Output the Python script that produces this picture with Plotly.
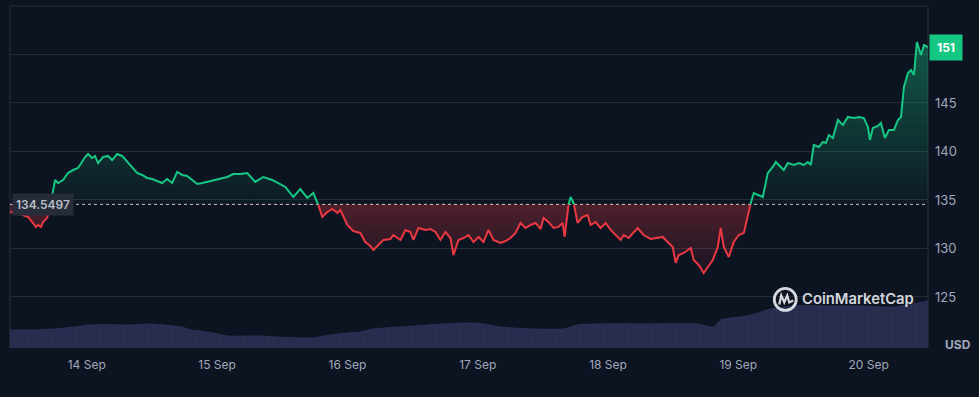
import numpy as np
import pandas as pd
import plotly.graph_objects as go

# ---------------- data ----------------
# hours relative to 14 Sep 2024 00:00
hours = [
    -14.14, -12.30, -10.82, -9.90, -9.35, -8.98, -8.43, -8.06, -7.32, -6.77,
    -6.40, -5.84, -5.29, -4.37, -3.45, -2.53, -1.60, -0.87, -0.31, 0.24,
    0.98, 1.53, 2.08, 3.01, 3.93, 4.66, 5.59, 6.51, 7.43, 8.35,
    9.27, 10.20, 11.12, 12.04, 12.96, 13.88, 14.81, 15.73, 16.65, 17.57,
    18.49, 19.42, 20.34, 21.26, 22.18, 23.29, 24.58, 25.87, 26.97, 28.27,
    29.56, 31.03, 32.51, 34.17, 35.27, 36.56, 38.04, 39.33, 40.62, 41.73,
    42.65, 43.38, 44.31, 45.23, 46.15, 46.70, 47.99, 49.10, 50.39, 51.31,
    52.23, 52.79, 53.71, 54.63, 55.92, 56.48, 57.77, 58.69, 59.61, 60.16,
    61.08, 62.38, 63.30, 64.22, 65.14, 66.06, 66.98, 67.54, 68.46, 69.38,
    70.30, 71.23, 72.15, 73.07, 73.99, 74.91, 76.20, 77.13, 78.05, 78.97,
    79.89, 80.81, 81.74, 82.66, 83.58, 84.13, 85.05, 85.98, 86.90, 87.64,
    88.01, 88.56, 89.12, 89.67, 90.41, 91.32, 92.25, 92.80, 93.72, 94.64,
    95.57, 96.49, 97.41, 98.33, 98.88, 99.80, 101.46, 102.57, 103.86, 105.15,
    106.07, 106.99, 107.92, 108.47, 109.02, 109.95, 111.24, 111.79, 112.71, 113.63,
    114.37, 115.29, 116.22, 116.77, 117.32, 118.24, 119.16, 120.08, 121.01, 121.74,
    122.30, 122.85, 123.77, 124.51, 125.43, 126.35, 126.91, 127.83, 128.38, 129.12,
    130.23, 131.15, 132.07, 132.81, 133.36, 133.91, 134.84, 135.57, 136.13, 136.68,
    137.42, 138.34, 139.26, 140.18, 141.29, 142.21, 143.13, 143.87, 144.24, 144.79,
    145.71, 146.27, 147.00, 147.74, 148.67, 149.40, 149.96, 150.51, 151.25, 151.80,
    152.36, 152.90, 153.64, 154.20, 154.94,
]
prices = [
    133.76, 133.56, 133.25, 132.63, 132.22, 132.42, 132.22, 132.73, 133.14, 134.18,
    135.52, 137.06, 136.75, 137.06, 137.78, 138.09, 138.30, 138.92, 139.43, 139.74,
    139.33, 139.54, 138.81, 139.43, 139.54, 139.12, 139.74, 139.54, 138.92, 138.30,
    137.78, 137.58, 137.27, 137.16, 136.96, 136.75, 137.16, 136.75, 137.89, 137.58,
    137.47, 137.06, 136.65, 136.75, 136.86, 137.06, 137.16, 137.37, 137.68, 137.68,
    137.78, 136.86, 137.37, 137.06, 136.75, 136.34, 135.31, 136.13, 135.21, 135.72,
    134.48, 133.25, 133.76, 134.07, 133.66, 133.97, 132.42, 131.80, 131.60, 130.67,
    130.26, 129.85, 130.36, 130.88, 130.98, 131.39, 130.88, 131.91, 131.70, 130.88,
    132.11, 131.91, 132.01, 131.70, 130.88, 131.70, 131.08, 129.33, 130.88, 131.08,
    131.39, 130.67, 131.19, 130.67, 131.91, 130.88, 130.57, 130.77, 131.08, 131.60,
    132.63, 132.11, 132.42, 132.63, 132.01, 133.14, 132.73, 132.11, 132.22, 132.63,
    131.19, 134.18, 135.31, 134.69, 132.63, 133.25, 133.45, 132.42, 132.73, 132.11,
    132.63, 131.91, 131.39, 130.88, 131.39, 131.08, 132.11, 131.39, 130.98, 131.08,
    131.19, 130.67, 130.15, 128.51, 129.33, 129.54, 130.05, 128.81, 128.30, 127.47,
    128.09, 128.81, 130.15, 132.11, 130.15, 129.12, 130.67, 131.39, 131.60, 133.25,
    134.69, 135.72, 135.52, 135.31, 137.78, 138.40, 138.92, 138.40, 138.09, 138.81,
    138.61, 138.81, 138.61, 138.92, 138.61, 140.67, 140.46, 140.98, 140.88, 141.70,
    141.39, 143.25, 142.73, 143.56, 143.45, 143.56, 143.45, 142.53, 141.19, 142.42,
    142.63, 142.94, 141.39, 142.22, 142.22, 143.25, 143.56, 146.65, 148.09, 148.40,
    147.89, 151.29, 149.95, 150.98, 150.77,
]
base_price = 134.5497

vol_hours = [
    -14.14, -9.90, -5.84, -2.16, 0.61, 7.98, 11.67, 15.91, 17.57, 19.05,
    20.89, 23.29, 25.87, 31.95, 34.72, 39.33, 41.73, 43.57, 47.99, 50.39,
    52.79, 57.77, 62.74, 65.69, 70.12, 73.07, 76.20, 81.74, 87.82, 90.41,
    94.64, 103.86, 112.53, 115.48, 116.77, 121.74, 125.98, 130.23, 137.05, 142.58,
    146.27, 149.03, 150.88, 155.12,
]
volumes = [
    45, 45, 47.5, 52.5, 57.5, 57.5, 60, 55, 52.5, 45,
    42.5, 37.5, 30, 30, 27.5, 25, 25, 30, 37.5, 40,
    47.5, 52.5, 57.5, 60, 62.5, 60, 52.5, 47.5, 47.5, 57.5,
    60, 60, 60, 52.5, 70, 80, 97.5, 105, 105, 105,
    102.5, 102.5, 107.5, 117.5,
]

day_ticks = ["2024-09-14", "2024-09-15", "2024-09-16", "2024-09-17",
             "2024-09-18", "2024-09-19", "2024-09-20"]
day_labels = ["14 Sep", "15 Sep", "16 Sep", "17 Sep", "18 Sep", "19 Sep", "20 Sep"]
price_ticks = [125, 130, 135, 140, 145, 150]
price_labels = ["125", "130", "135", "140", "145", ""]

# ---------------- styling ----------------
BG = "#0d1421"
GREEN = "#16c784"
RED = "#ea3943"
GRID = "#252c38"
TXT = "#a1a7bb"
FONT = "Inter"

t0 = pd.Timestamp("2024-09-14")

# insert baseline crossings so green/red parts meet exactly
t = np.array(hours, dtype=float)
p = np.array(prices, dtype=float)
T = [t[0]]
P = [p[0]]
for i in range(1, len(t)):
    a, b = p[i - 1] - base_price, p[i] - base_price
    if a * b < 0:
        f = a / (a - b)
        T.append(t[i - 1] + f * (t[i] - t[i - 1]))
        P.append(base_price)
    T.append(t[i])
    P.append(p[i])
T = np.array(T)
P = np.array(P)
X = t0 + pd.to_timedelta(T, unit="h")

green_line = [v if v >= base_price else None for v in P]
red_line = [v if v <= base_price else None for v in P]
green_fill = np.maximum(P, base_price)
red_fill = np.minimum(P, base_price)
base_arr = np.full(len(P), base_price)

vx = t0 + pd.to_timedelta(np.array(vol_hours), unit="h")

fig = go.Figure()

# volume area
fig.add_trace(go.Scatter(
    x=vx, y=volumes, yaxis="y2", mode="lines",
    line=dict(color="#2b3157", width=1, shape="spline", smoothing=0.6),
    fill="tozeroy",
    fillpattern=dict(shape="|", bgcolor="#262b4b", fgcolor="#2f3560", size=3, solidity=0.35),
    hoverinfo="skip", showlegend=False,
))

# green fill
fig.add_trace(go.Scatter(x=X, y=base_arr, mode="lines", line=dict(width=0),
                         hoverinfo="skip", showlegend=False))
fig.add_trace(go.Scatter(
    x=X, y=green_fill, mode="lines", line=dict(width=0), fill="tonexty",
    fillgradient=dict(type="vertical", start=base_price, stop=152,
                      colorscale=[[0, "rgba(22,199,132,0.03)"], [1, "rgba(22,199,132,0.40)"]]),
    hoverinfo="skip", showlegend=False))
# red fill
fig.add_trace(go.Scatter(x=X, y=base_arr, mode="lines", line=dict(width=0),
                         hoverinfo="skip", showlegend=False))
fig.add_trace(go.Scatter(
    x=X, y=red_fill, mode="lines", line=dict(width=0), fill="tonexty",
    fillgradient=dict(type="vertical", start=127, stop=base_price,
                      colorscale=[[0, "rgba(234,57,67,0.03)"], [1, "rgba(234,57,67,0.30)"]]),
    hoverinfo="skip", showlegend=False))

# baseline dotted
fig.add_trace(go.Scatter(
    x=[X[0], X[-1]], y=[base_price, base_price], mode="lines",
    line=dict(color="rgba(255,255,255,0.75)", width=1, dash="dot"),
    hoverinfo="skip", showlegend=False))

# price lines
fig.add_trace(go.Scatter(x=X, y=red_line, mode="lines", line=dict(color=RED, width=2),
                         connectgaps=False, hoverinfo="skip", showlegend=False))
fig.add_trace(go.Scatter(x=X, y=green_line, mode="lines", line=dict(color=GREEN, width=2),
                         connectgaps=False, hoverinfo="skip", showlegend=False))

ymin, ymax = 119.74, 155.0

fig.update_layout(
    width=979, height=397,
    margin=dict(l=10, r=51, t=6, b=49),
    paper_bgcolor=BG, plot_bgcolor=BG,
    font=dict(family=FONT, color=TXT, size=12),
    showlegend=False,
    hovermode=False,
    xaxis=dict(
        range=[X[0], X[-1]], showgrid=False, zeroline=False, showline=False,
        tickmode="array", tickvals=[pd.Timestamp(d) for d in day_ticks], ticktext=day_labels,
        ticks="", ticklabelstandoff=8, tickfont=dict(size=12, color=TXT),
    ),
    yaxis=dict(
        range=[ymin, ymax], side="right", showgrid=True, gridcolor=GRID, gridwidth=1,
        zeroline=False, showline=False, tickmode="array", tickvals=price_ticks,
        ticktext=price_labels, ticks="", ticklabelstandoff=6,
        tickfont=dict(size=13, color=TXT),
    ),
    yaxis2=dict(range=[0, 855], overlaying="y", visible=False, fixedrange=True),
)

# frame lines (left, top, right)
for x0, y0, x1, y1 in [(0, 0, 0, 1), (0, 1, 1, 1), (1, 0, 1, 1)]:
    fig.add_shape(type="line", xref="paper", yref="paper", x0=x0, y0=y0, x1=x1, y1=y1,
                  line=dict(color="#2a313d", width=1), layer="below")

# baseline label
fig.add_annotation(
    xref="paper", yref="y", x=0.002, y=base_price, xanchor="left", yanchor="middle",
    text=f"{base_price:.4f}", showarrow=False,
    font=dict(family=FONT, size=12, color="#b9bdc8", weight=600),
    bgcolor="#262c39", borderpad=3,
)
# last price label
fig.add_annotation(
    xref="paper", yref="y", x=1.001, y=prices[-1], xanchor="left", yanchor="middle",
    text=f"{round(prices[-1])}", showarrow=False,
    font=dict(family=FONT, size=12, color="#ffffff", weight=700),
    bgcolor=GREEN, borderpad=5, width=22,
)
# currency label
fig.add_annotation(
    xref="paper", yref="paper", x=1.0165, y=0.01, xanchor="left", yanchor="middle",
    text="USD", showarrow=False,
    font=dict(family=FONT, size=12, color=TXT, weight=700),
)

# watermark
fig.add_annotation(
    xref="paper", yref="paper", x=0.8605, y=0.142, xanchor="left", yanchor="middle",
    text="CoinMarketCap", showarrow=False,
    font=dict(family=FONT, size=14.8, color="rgba(232,234,240,0.92)", weight=600),
)
fig.add_shape(type="circle", xref="paper", yref="paper", xsizemode="pixel", ysizemode="pixel",
              xanchor=0.8445, yanchor=0.142, x0=-11, x1=11, y0=-11, y1=11,
              line=dict(color="rgba(232,234,240,0.92)", width=2.8))
fig.add_shape(type="path", xref="paper", yref="paper", xsizemode="pixel", ysizemode="pixel",
              xanchor=0.8445, yanchor=0.142,
              path="M -6 -5 L -4 4 L -1 -3 L 2 4 L 4 -3 L 8 -1",
              line=dict(color="rgba(232,234,240,0.92)", width=2.2))

fig.write_html(
    "out.html",
    config={"displayModeBar": False},
    post_script="document.body.style.margin='0';document.body.style.overflow='hidden';"
                "document.body.style.background='#0d1421';",
)
